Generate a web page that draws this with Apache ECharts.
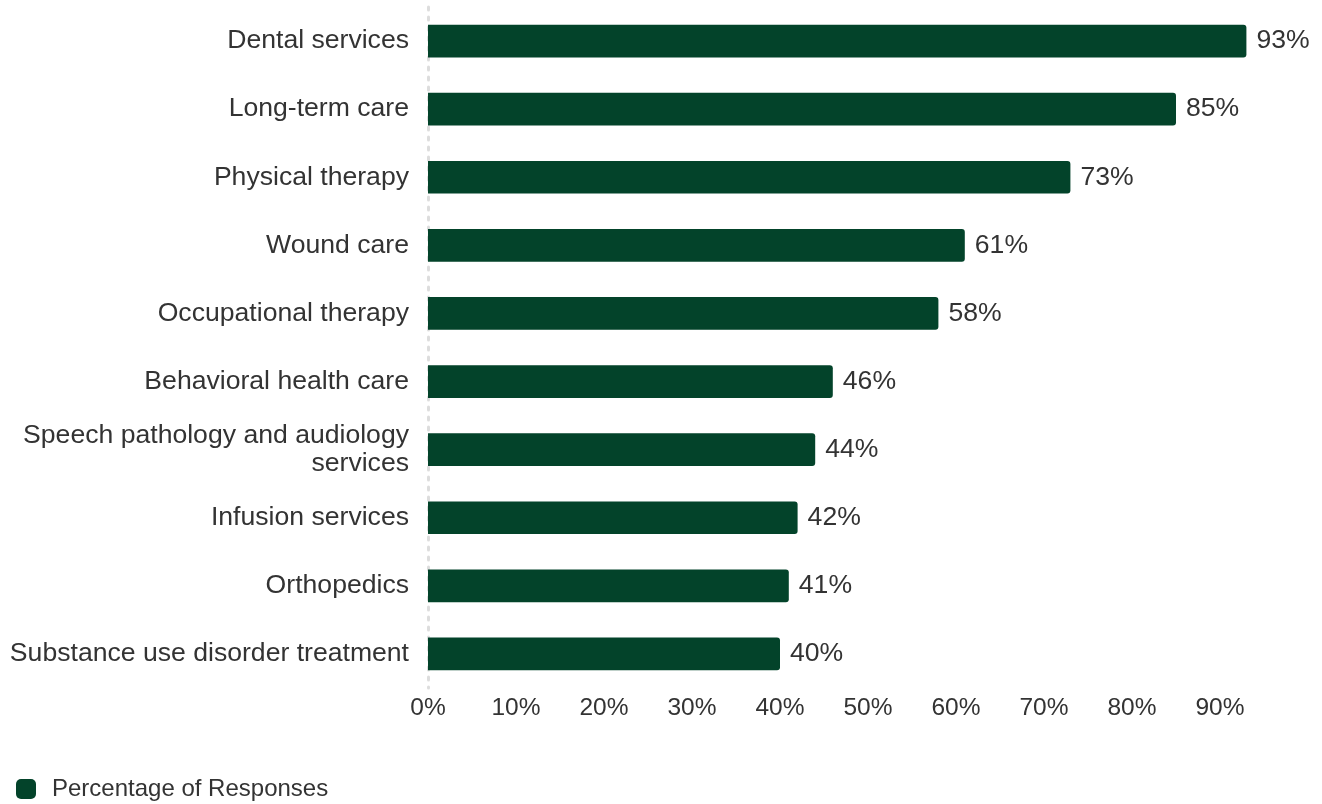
<!DOCTYPE html>
<html><head><meta charset="utf-8">
<script src="https://cdn.jsdelivr.net/npm/echarts@6/dist/echarts.min.js"></script>
<style>html,body{margin:0;padding:0;background:#fff}#c{width:1322px;height:804px}</style>
</head><body><div id="c"></div>
<script>
const categories = ["Dental services","Long-term care","Physical therapy","Wound care","Occupational therapy","Behavioral health care","Speech pathology and audiology\nservices","Infusion services","Orthopedics","Substance use disorder treatment"];
const values = [93,85,73,61,58,46,44,42,41,40];
const seriesName = "Percentage of Responses";
const FONT = "Liberation Sans, Arial, sans-serif";
const chart = echarts.init(document.getElementById('c'));
chart.setOption({
  animation:false,
  grid:{left:428,right:14,top:7,bottom:116,containLabel:false},
  legend:{left:11,top:772,itemWidth:20,itemHeight:20,itemGap:16,icon:'roundRect',
    textStyle:{fontFamily:FONT,fontSize:24,color:'#333',padding:[0,0,0,11]},data:[seriesName]},
  xAxis:{type:'value',min:0,max:100,interval:10,
    axisLine:{show:false},axisTick:{show:false},splitLine:{show:false},
    axisLabel:{formatter:'{value}%',showMaxLabel:false,fontFamily:FONT,fontSize:24.5,color:'#333',margin:8}},
  yAxis:{type:'category',inverse:true,data:categories,
    axisLine:{show:true,lineStyle:{color:'#dddddd',width:3,type:[3,7]}},
    axisTick:{show:false},
    axisLabel:{fontFamily:FONT,fontSize:26.6,color:'#333',margin:19,lineHeight:28,align:'right'}},
  series:[{name:seriesName,type:'bar',data:values,barWidth:'48%',
    itemStyle:{color:'#03432a',borderRadius:[0,3,3,0]},
    label:{show:true,position:'right',formatter:'{c}%',fontFamily:FONT,fontSize:26.6,color:'#333',distance:10}}]
});
</script></body></html>
